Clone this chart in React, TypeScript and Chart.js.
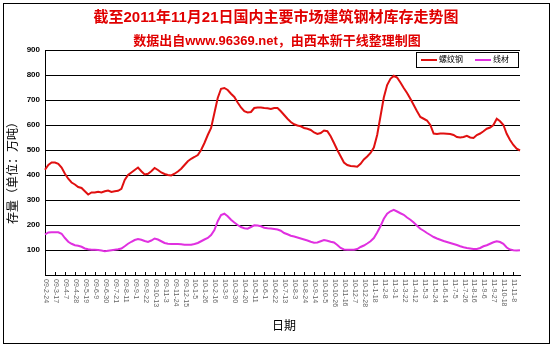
import React, { useEffect, useRef } from 'react';
import { Chart, registerables } from 'chart.js';

Chart.register(...registerables);

const FONT = '"Liberation Sans", "Noto Sans CJK SC", sans-serif';
const TITLE = '截至2011年11月21日国内主要市场建筑钢材库存走势图';
const SUBTITLE = '数据出自www.96369.net，由西本新干线整理制图';
const Y_TITLE = '存量（单位：万吨）';
const X_TITLE = '日期';

const tickLabels = [
  '09-2-24', '09-3-17', '09-4-7', '09-4-28', '09-5-19', '09-6-9', '09-6-30', '09-7-21',
  '09-8-11', '09-9-1', '09-9-22', '09-10-13', '09-11-3', '09-11-24', '09-12-15', '10-1-5',
  '10-1-26', '10-2-16', '10-3-9', '10-3-30', '10-4-20', '10-5-11', '10-6-1', '10-6-22',
  '10-7-13', '10-8-3', '10-8-24', '10-9-14', '10-10-5', '10-10-26', '10-11-16', '10-12-7',
  '10-12-28', '11-1-18', '11-2-8', '11-3-1', '11-3-22', '11-4-12', '11-5-3', '11-5-24',
  '11-6-14', '11-7-5', '11-7-26', '11-8-16', '11-9-6', '11-9-27', '11-10-18', '11-11-8',
];

const seriesNames = ['螺纹钢', '线材'];
const seriesColors = ['#e01010', '#e030e0'];

const rebar = [
  421, 440, 450, 450, 445, 430, 405, 385, 370, 362,
  352, 348, 335, 322, 330, 330, 333, 330, 335, 338,
  332, 335, 337, 345, 380, 400, 410, 420, 430, 415,
  402, 405, 415, 428, 420, 410, 404, 400, 398, 405,
  414, 425, 440, 455, 465, 472, 480, 500, 528, 560,
  588, 648, 708, 745, 748, 740, 725, 712, 690, 670,
  655, 650, 652, 668, 670, 670, 668, 667, 664, 668,
  668, 655, 640, 625, 612, 603, 598, 595, 588, 585,
  580, 570, 564, 568, 578, 575, 555, 528, 500, 475,
  450, 440, 436, 435, 433, 445, 462, 474, 488, 510,
  560, 635, 710, 760, 785, 797, 790, 770, 748, 728,
  705, 680, 655, 632, 625, 618, 600, 566, 564, 566,
  566, 565, 564, 560, 552, 550, 552, 557, 550, 548,
  560, 566, 575, 585, 590, 600, 625, 615, 600, 565,
  540, 520, 505, 498,
];

const wire = [
  162, 170, 171, 171, 171, 165, 148, 133, 125, 119,
  117, 113, 106, 103, 101, 101, 100, 98, 95, 97,
  99, 101, 103, 106, 115, 125, 133, 140, 144, 141,
  136, 132, 138, 146, 142, 135, 128, 125, 124, 124,
  124, 123, 121, 121, 121, 124, 128, 135, 142, 148,
  160, 180, 215, 240, 245, 235, 221, 210, 200, 192,
  187, 185, 192, 199, 198, 195, 189, 187, 186, 184,
  182, 177, 168, 163, 157, 154, 150, 146, 142, 138,
  133, 129, 130, 135, 140, 137, 133, 130, 120, 108,
  102, 101, 101, 101, 104, 112, 118, 126, 135, 148,
  170, 195, 225, 245, 255, 261, 254, 247, 241, 230,
  221, 210, 197, 185, 177, 168, 160, 152, 146, 141,
  136, 132, 128, 124, 120, 115, 111, 108, 106, 104,
  104, 108, 115, 119, 125, 131, 135, 132, 125, 110,
  102, 99, 98, 99,
];

const categories = rebar.map((_, i) => (i % 3 === 0 && tickLabels[i / 3] ? tickLabels[i / 3] : ''));

const decor = {
  id: 'decor',
  afterDraw(chart: any) {
    const ctx = chart.ctx as CanvasRenderingContext2D;
    const { bottom } = chart.chartArea;
    const xs = chart.scales.x;
    ctx.save();

    // Titles
    ctx.fillStyle = '#e00000';
    ctx.textAlign = 'center';
    ctx.textBaseline = 'middle';
    ctx.font = `bold 15px ${FONT}`;
    ctx.fillText(TITLE, 276, 18);
    ctx.font = `bold 13px ${FONT}`;
    ctx.fillText(SUBTITLE, 277, 41);

    // X ticks and labels
    ctx.strokeStyle = '#000';
    ctx.lineWidth = 1;
    ctx.font = `7px ${FONT}`;
    ctx.fillStyle = '#666';
    categories.forEach((lab, i) => {
      if (!lab) return;
      const x = Math.round(xs.getPixelForValue(i)) + 0.5;
      ctx.beginPath();
      ctx.moveTo(x, bottom);
      ctx.lineTo(x, bottom - 3);
      ctx.stroke();
      ctx.save();
      ctx.translate(x, bottom + 4);
      ctx.rotate(Math.PI / 2);
      ctx.textAlign = 'left';
      ctx.textBaseline = 'middle';
      ctx.fillText(lab, 0, 0);
      ctx.restore();
    });

    // Axis titles
    ctx.fillStyle = '#000';
    ctx.font = `12px ${FONT}`;
    ctx.textAlign = 'center';
    ctx.textBaseline = 'middle';
    ctx.fillText(X_TITLE, 284, 327);
    ctx.save();
    ctx.translate(14, 170);
    ctx.rotate(-Math.PI / 2);
    ctx.fillText(Y_TITLE, 0, 0);
    ctx.restore();

    // Legend
    const lx = 416, ly = 52, lw = 102, lh = 15;
    ctx.fillStyle = '#fff';
    ctx.fillRect(lx, ly, lw, lh);
    ctx.strokeStyle = '#000';
    ctx.lineWidth = 1;
    ctx.strokeRect(lx + 0.5, ly + 0.5, lw, lh);
    const items = [
      { x: 421, tx: 439 },
      { x: 475, tx: 493 },
    ];
    ctx.font = `8px ${FONT}`;
    ctx.textAlign = 'left';
    chart.data.datasets.forEach((ds: any, k: number) => {
      const it = items[k];
      ctx.strokeStyle = ds.borderColor;
      ctx.lineWidth = 2;
      ctx.beginPath();
      ctx.moveTo(it.x, ly + 8);
      ctx.lineTo(it.x + 16, ly + 8);
      ctx.stroke();
      ctx.fillStyle = '#000';
      ctx.fillText(ds.label, it.tx, ly + 8);
    });

    ctx.restore();
  },
};

export default function App() {
  const ref = useRef<HTMLCanvasElement | null>(null);

  useEffect(() => {
    if (!ref.current) return;
    const chart = new Chart(ref.current, {
      type: 'line',
      data: {
        labels: categories,
        datasets: [
          {
            label: seriesNames[0],
            data: rebar,
            borderColor: seriesColors[0],
            backgroundColor: seriesColors[0],
            borderWidth: 2,
            pointRadius: 0,
            tension: 0,
          },
          {
            label: seriesNames[1],
            data: wire,
            borderColor: seriesColors[1],
            backgroundColor: seriesColors[1],
            borderWidth: 2,
            pointRadius: 0,
            tension: 0,
          },
        ],
      },
      options: {
        animation: false,
        responsive: false,
        devicePixelRatio: 1,
        layout: { padding: { top: 50, right: 34, left: 0, bottom: 0 } },
        plugins: {
          legend: { display: false },
          title: { display: false },
          tooltip: { enabled: false },
        },
        scales: {
          x: {
            type: 'category',
            offset: false,
            grid: { display: false },
            border: { display: true, color: '#000', width: 1 },
            ticks: { display: false },
            afterFit: (s: any) => {
              s.height = 73;
            },
          },
          y: {
            min: 0,
            max: 900,
            grid: { color: '#000', lineWidth: 1, drawTicks: false },
            border: { display: true, color: '#000', width: 1 },
            ticks: {
              stepSize: 100,
              padding: 5,
              color: '#000',
              font: { family: FONT, size: 8, weight: 'bold' },
              callback: (v: any) => (v === 0 ? '' : String(v)),
            },
            afterFit: (s: any) => {
              s.width = 45;
            },
          },
        },
      },
      plugins: [decor],
    });
    return () => chart.destroy();
  }, []);

  return (
    <div style={{ position: 'absolute', left: 0, top: 0, width: 554, height: 348, background: '#fff' }}>
      <canvas ref={ref} width={554} height={348} style={{ width: 554, height: 348, display: 'block' }} />
      <div
        style={{
          position: 'absolute',
          left: 3,
          top: 3,
          width: 547,
          height: 341,
          border: '1px solid #000',
          boxSizing: 'border-box',
          pointerEvents: 'none',
        }}
      />
    </div>
  );
}
